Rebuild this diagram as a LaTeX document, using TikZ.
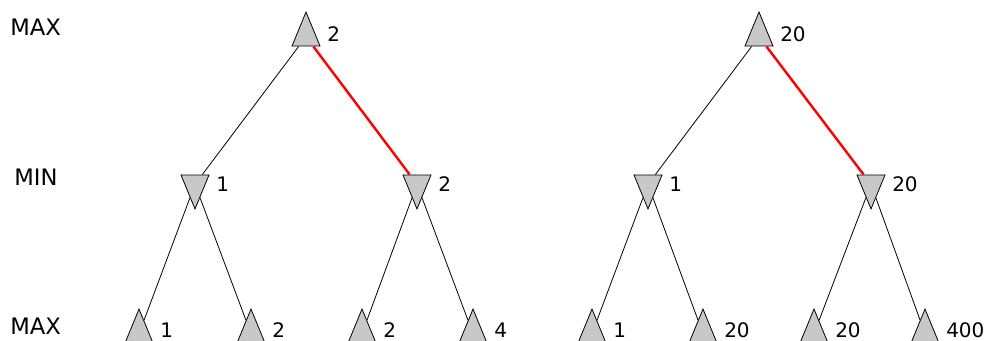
\documentclass[tikz,border=0pt]{standalone}
\usepackage{fontspec}
\setmainfont{DejaVu Sans}
\usepackage{tikz}
\usetikzlibrary{shapes.geometric}
\definecolor{nodegray}{RGB}{200,200,200}
\tikzset{
  tri/.style={draw, fill=nodegray, isosceles triangle, isosceles triangle stretches, inner sep=0pt, minimum width=21pt, minimum height=25.5pt, line width=0.6pt},
  maxnode/.style={tri, shape border rotate=90, anchor=apex},
  minnode/.style={tri, shape border rotate=270, anchor=apex},
  val/.style={anchor=west, inner sep=0pt, font=\fontsize{15}{18}\selectfont},
  ply/.style={anchor=west, inner sep=0pt, font=\fontsize{17}{20}\selectfont},
  edge/.style={line width=0.6pt},
  best/.style={draw=red, line width=1.8pt}
}

\begin{document}
\begin{tikzpicture}[x=0.75pt, y=-0.75pt]
  \useasboundingbox (0,0) rectangle (986,340);

  % ply labels
  \node[ply] (tmax) at (10,27.5) {MAX};
  \node[ply] (tmin) at (14,177.5) {MIN};
  \node[ply] (bmax) at (10,326) {MAX};

  % left tree (nodes placed by their apex)
  \node[maxnode] (ra) at (306,11) {};
  \node[minnode] (ma) at (195,210) {};
  \node[minnode] (mb) at (417,210) {};
  \node[maxnode] (la) at (139,308) {};
  \node[maxnode] (lb) at (251,308) {};
  \node[maxnode] (lc) at (362,308) {};
  \node[maxnode] (ld) at (473,308) {};

  % right tree
  \node[maxnode] (rb) at (759,11) {};
  \node[minnode] (mc) at (648,210) {};
  \node[minnode] (md) at (871,210) {};
  \node[maxnode] (le) at (592,308) {};
  \node[maxnode] (lf) at (703,308) {};
  \node[maxnode] (lg) at (814,308) {};
  \node[maxnode] (lh) at (925,308) {};

  % values
  \node[val] (vra) at (327,34.5) {2};
  \node[val] (vma) at (216,184.5) {1};
  \node[val] (vmb) at (438,184.5) {2};
  \node[val] (vla) at (160,330) {1};
  \node[val] (vlb) at (272,330) {2};
  \node[val] (vlc) at (383,330) {2};
  \node[val] (vld) at (494,330) {4};
  \node[val] (vrb) at (780,34.5) {20};
  \node[val] (vmc) at (669,184.5) {1};
  \node[val] (vmd) at (892,184.5) {20};
  \node[val] (vle) at (613,330) {1};
  \node[val] (vlf) at (724,330) {20};
  \node[val] (vlg) at (835,330) {20};
  \node[val] (vlh) at (946,330) {400};

  % edges
  \draw[edge] (ra) -- (ma);
  \draw[best] (ra) -- (mb);
  \draw[edge] (ma) -- (la);
  \draw[edge] (ma) -- (lb);
  \draw[edge] (mb) -- (lc);
  \draw[edge] (mb) -- (ld);
  \draw[edge] (rb) -- (mc);
  \draw[best] (rb) -- (md);
  \draw[edge] (mc) -- (le);
  \draw[edge] (mc) -- (lf);
  \draw[edge] (md) -- (lg);
  \draw[edge] (md) -- (lh);
\end{tikzpicture}
\end{document}
